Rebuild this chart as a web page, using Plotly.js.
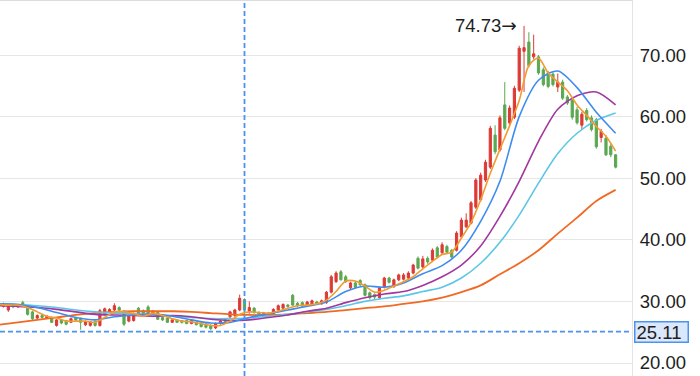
<!DOCTYPE html>
<html><head><meta charset="utf-8">
<script src="https://cdn.plot.ly/plotly-3.0.1.min.js"></script>
<style>html,body{margin:0;padding:0;background:#fff;}#chart{width:700px;height:376px;}</style>
</head><body><div id="chart"></div>
<script>
// Daily candles (oldest -> newest)
const opens = [29.7,29.2,28.6,29.4,29.1,29.8,28.9,28.3,27.3,27.7,
27.3,27.3,26.1,27.0,26.9,26.6,27.3,27.2,26.2,26.1,
26.7,26.1,27.9,28.3,28.6,29.0,28.4,26.8,26.9,28.9,
28.5,29.1,27.9,28.2,27.4,27.3,26.6,27.0,26.9,26.9,
26.4,26.6,26.5,26.3,26.1,25.7,26.4,27.0,27.5,27.7,
28.6,30.3,28.4,28.9,28.2,27.9,28.1,28.0,28.6,28.9,
29.4,31.0,29.7,29.8,29.4,29.4,29.9,29.6,29.8,31.5,
33.2,34.8,34.0,32.2,33.0,33.4,32.7,31.4,31.1,30.6,
32.3,33.8,32.4,33.5,33.6,33.8,34.6,37.0,35.6,37.0,
36.7,38.7,37.9,38.9,38.3,38.3,40.5,42.1,42.7,45.3,
46.5,49.7,51.8,57.0,54.6,61.9,59.0,59.9,64.3,70.6,
72.1,69.7,69.7,67.6,67.1,66.9,64.8,65.6,63.2,62.7,
61.1,58.6,61.0,59.8,59.5,56.6,56.5,55.2,53.8];
const closes = [29.4,29.6,29.3,29.1,29.4,29.2,27.9,27.2,27.7,27.4,
27.6,26.6,27.0,26.5,26.3,27.2,27.0,26.6,26.7,26.7,
26.1,28.5,28.8,28.7,29.3,28.6,26.3,27.6,28.0,28.1,
28.1,27.9,28.4,27.1,27.0,26.6,27.0,26.6,26.6,26.4,
26.9,26.2,25.9,25.8,25.6,26.4,26.8,26.7,28.3,28.6,
30.5,28.6,29.0,28.2,27.9,28.1,27.9,28.7,29.3,29.5,
29.2,29.4,29.3,29.2,29.9,30.1,29.6,30.1,31.5,34.0,
34.6,33.5,33.2,33.0,32.3,32.7,31.0,30.6,30.7,32.2,
33.8,33.1,33.5,34.3,34.3,34.6,35.9,35.4,36.9,36.4,
38.3,37.2,39.2,38.0,37.2,41.1,43.2,43.2,46.0,49.7,
50.5,52.6,58.1,54.3,59.8,58.1,61.4,64.6,71.1,71.2,
68.3,70.2,67.1,65.2,64.9,65.2,65.6,63.0,62.2,59.9,
59.0,60.4,59.5,57.9,55.1,57.6,53.8,53.8,51.8];
const highs = [29.9,29.8,29.5,29.6,29.6,30.1,29.1,28.5,27.9,27.9,
27.8,27.5,27.1,27.1,27.0,27.4,27.5,27.4,26.9,26.8,
26.9,28.8,29.0,28.9,29.7,29.2,28.6,27.8,28.2,29.1,
28.7,29.4,28.6,28.3,27.6,27.4,27.2,27.1,27.0,27.0,
27.0,26.7,26.6,26.5,26.3,26.6,27.0,27.2,28.5,28.8,
31.1,30.5,30.0,29.1,28.4,28.3,28.3,28.9,29.5,29.7,
29.6,31.2,29.9,30.0,30.1,30.3,30.1,30.3,31.7,34.3,
34.9,35.1,34.3,33.2,33.3,33.6,32.9,31.6,31.3,32.4,
34.0,34.0,33.7,34.5,34.6,34.9,36.1,37.3,37.4,37.3,
38.6,39.0,39.6,39.2,38.5,41.4,43.6,44.3,46.3,50.0,
50.9,53.0,58.5,58.6,60.2,65.6,61.8,65.0,71.5,74.73,
73.7,73.3,70.0,68.0,67.4,67.2,67.0,66.0,63.5,63.0,
61.6,60.8,61.4,60.2,59.8,58.0,57.0,55.6,53.9];
const lows = [29.2,29.0,28.3,28.9,29.0,29.1,27.7,26.9,27.1,27.2,
27.2,26.5,25.9,26.3,26.1,26.5,26.8,25.4,26.0,25.9,
25.9,25.9,27.7,28.1,28.4,28.4,26.0,26.6,26.7,27.9,
27.9,27.8,27.8,27.0,26.8,26.5,26.5,26.5,26.4,26.3,
26.3,26.1,25.8,25.6,25.3,25.5,26.2,26.5,27.3,27.5,
28.4,27.8,28.0,28.0,27.7,27.7,27.7,27.9,28.5,28.8,
29.0,29.3,29.1,29.1,29.3,29.3,29.5,29.5,29.6,31.3,
33.0,33.4,33.0,32.0,32.1,32.5,30.8,30.3,30.4,30.4,
32.1,32.9,32.2,33.3,33.4,33.6,34.4,35.2,35.3,36.1,
36.5,37.0,37.7,37.8,37.0,38.1,40.3,41.9,42.5,45.0,
46.2,49.4,51.5,53.9,54.3,57.8,58.7,59.6,64.0,64.0,
68.0,69.3,66.8,64.9,64.6,64.9,64.0,62.7,61.9,59.5,
58.7,58.0,59.2,57.6,54.8,55.8,53.6,53.4,51.6];

// Moving averages (MA5 every 2nd session, others every 4th)
const ma5 = [29.5,29.4,29.4,29.0,28.3,27.6,27.3,26.8,26.8,26.8,
26.6,27.4,28.3,28.3,28.0,27.6,28.1,27.7,27.2,26.8,
26.7,26.4,26.1,26.1,26.8,27.9,28.3,28.2,28.1,28.4,
28.9,29.3,29.4,29.6,30.2,31.6,33.3,33.3,32.5,31.5,
31.8,32.5,33.2,34.0,35.3,36.5,37.6,38.0,40.3,42.8,
46.5,50.8,54.7,58.5,62.6,68.3,69.5,67.1,65.6,64.2,
61.9,60.2,58.4,56.8,54.4];
const ma10 = [29.6,29.5,29.0,28.2,27.4,27.0,27.5,27.8,28.0,27.6,27.0,26.5,26.6,27.4,28.0,28.6,29.2,
29.9,31.6,32.5,32.3,33.0,34.5,35.8,38.3,43.0,49.5,60.0,65.9,67.4,64.7,60.7,57.3];
const ma20 = [29.3,29.2,29.0,28.7,28.3,27.9,27.8,27.7,27.6,27.7,27.5,27.1,26.9,27.0,27.4,27.8,28.4,
28.9,29.8,30.6,31.2,31.6,32.6,34.0,35.9,39.0,43.8,49.5,56.0,61.2,63.4,64.0,61.9];
const ma30 = [29.6,29.5,29.3,29.0,28.6,28.3,28.1,28.0,27.8,27.6,27.4,27.2,27.2,27.3,27.6,27.9,28.3,
28.7,29.3,30.0,30.5,30.9,31.6,32.3,33.8,36.2,39.6,44.0,49.2,54.0,57.3,59.4,60.6];
const ma60 = [26.2,26.6,27.0,27.4,27.8,28.1,28.3,28.4,28.4,28.4,28.3,28.1,27.9,27.8,27.8,27.9,28.1,
28.3,28.6,28.9,29.2,29.6,30.0,30.6,31.5,32.6,34.4,36.2,38.3,41.0,43.6,46.3,48.1];

const crossSession = 51;
const crossValue = 25.11;
const yTickVals = [20, 30, 40, 50, 60, 70];

const days = opens.map((_, i) => i);
const stepDays = (arr, step) => arr.map((_, k) => k * step);

const UP = '#dc3a35', DOWN = '#5aa852';
const FONT = 'Liberation Sans, Arial, Helvetica, sans-serif';
const BLUE = '#4a93ef';

const maLine = (y, step, color, w) => ({
  type: 'scatter', mode: 'lines', x: stepDays(y, step), y: y,
  line: {color: color, width: w, shape: 'spline', smoothing: 0.8},
  hoverinfo: 'skip', showlegend: false
});

const traces = [
  {
    type: 'candlestick', x: days, open: opens, high: highs, low: lows, close: closes,
    increasing: {line: {color: UP, width: 1}, fillcolor: UP},
    decreasing: {line: {color: DOWN, width: 1}, fillcolor: DOWN},
    whiskerwidth: 0, hoverinfo: 'skip', showlegend: false
  },
  maLine(ma60, 4, '#f06a24', 1.8),
  maLine(ma30, 4, '#5cc6e6', 1.6),
  maLine(ma20, 4, '#a2379f', 1.6),
  maLine(ma10, 4, '#3f8cf0', 1.6),
  maLine(ma5, 2, '#f39a30', 1.6)
];

const peakHigh = Math.max(...highs);
const peakDay = highs.indexOf(peakHigh);

const layout = {
  width: 700, height: 376, autosize: false,
  margin: {l: 0, r: 68, t: 1, b: 0, pad: 0},
  paper_bgcolor: '#ffffff', plot_bgcolor: '#ffffff',
  showlegend: false, hovermode: false, dragmode: false,
  boxgap: 0.35,
  font: {family: FONT, size: 18.5, color: '#1e1e1e'},
  xaxis: {
    range: [0.27, 131.4], showgrid: false, zeroline: false,
    showticklabels: false, ticks: '', side: 'top',
    showline: true, linecolor: '#dcdcdc', linewidth: 1.5,
    rangeslider: {visible: false}, fixedrange: true
  },
  yaxis: {
    range: [17.89, 78.77], side: 'right', tickmode: 'array', tickvals: yTickVals,
    ticktext: yTickVals.map(v => v.toFixed(2)),
    showgrid: true, gridcolor: '#e6e6e6', gridwidth: 1, zeroline: false,
    showline: true, linecolor: '#e3e3e3', linewidth: 1,
    ticks: 'outside', ticklen: 3, tickcolor: 'rgba(0,0,0,0)',
    tickfont: {family: FONT, size: 18.5, color: '#1e1e1e'}, fixedrange: true
  },
  shapes: [
    {type: 'line', xref: 'x', yref: 'paper', x0: crossSession, x1: crossSession, y0: 0, y1: 1,
     line: {color: BLUE, width: 1.8, dash: '5px,3px'}},
    {type: 'line', xref: 'paper', yref: 'y', x0: 0, x1: 1, y0: crossValue, y1: crossValue,
     line: {color: BLUE, width: 1.8, dash: '5px,3px'}}
  ],
  annotations: [
    {xref: 'x', yref: 'y', x: peakDay, y: peakHigh,
     text: peakHigh.toFixed(2) + '<span style="font-family:DejaVu Sans">→</span>',
     showarrow: false, xanchor: 'right', yanchor: 'middle', xshift: -5,
     font: {family: FONT, size: 18.5, color: '#1e1e1e'}},
    {xref: 'paper', yref: 'y', x: 1, y: crossValue, text: crossValue.toFixed(2),
     showarrow: false, xanchor: 'left', yanchor: 'middle', xshift: 2,
     bgcolor: '#dbe8fb', bordercolor: BLUE, borderwidth: 1.5, borderpad: 1,
     width: 50, height: 17, align: 'left',
     font: {family: FONT, size: 18.5, color: '#1e1e1e'}}
  ]
};

Plotly.newPlot('chart', traces, layout, {staticPlot: true, displayModeBar: false});
</script>
</body></html>
